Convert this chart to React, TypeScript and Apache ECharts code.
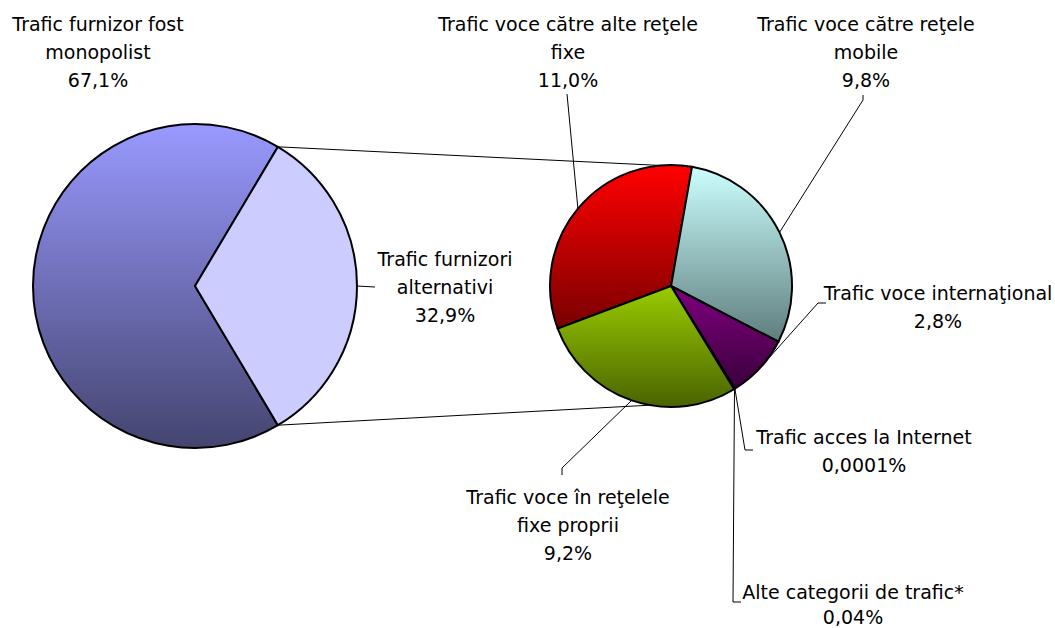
import React, { useEffect, useRef } from "react";
import * as echarts from "echarts";

// ---- data ----
const mainCategories = ["Trafic furnizor fost\nmonopolist", "Trafic furnizori\nalternativi"];
const mainValues = [67.1, 32.9];
const mainValueLabels = ["67,1%", "32,9%"];

const subCategories = [
  "Trafic voce către alte reţele\nfixe",
  "Trafic voce către reţele\nmobile",
  "Trafic voce internaţional",
  "Trafic acces la Internet",
  "Alte categorii de trafic*",
  "Trafic voce în reţelele\nfixe proprii",
];
const subValues = [11.0, 9.8, 2.8, 0.0001, 0.04, 9.2];
const subValueLabels = ["11,0%", "9,8%", "2,8%", "0,0001%", "0,04%", "9,2%"];

// ---- layout (positions / styles) ----
const LEFT = { cx: 195, cy: 286, r: 162 };
const RIGHT = { cx: 671, cy: 286, r: 121 };
const FONT = '"DejaVu Sans", Verdana, sans-serif';
const FS = 19;
const LH = 28;

// label anchor: center x, top y, line height, and label line elbow points (after start point)
const mainLabelLayout = [
  { x: 98, y: 10, lh: LH, line: null as null | number[][] },
  { x: 445, y: 245, lh: LH, line: [[375, 287]] },
];
const subLabelLayout = [
  { x: 568, y: 10, lh: LH, line: [[567, 94]] },
  { x: 866, y: 10, lh: LH, line: [[863, 100], [863, 95]] },
  { x: 938, y: 279, lh: LH, line: [[818, 303], [826, 303]] },
  { x: 864, y: 423, lh: LH, line: [[745, 450], [753, 450]] },
  { x: 853, y: 579, lh: 25, line: [[733, 602], [741, 602]] },
  { x: 568, y: 483, lh: LH, line: [[562, 468], [562, 475]] },
];

const mainColors = [
  ["#9999FF", "#44446F"],
  ["#CCCCFF", "#CCCCFF"],
];
const subColors = [
  ["#FF0000", "#7A0000"],
  ["#CCFFFF", "#5E7D7D"],
  ["#800080", "#3A003A"],
  ["#000000", "#000000"],
  ["#000000", "#000000"],
  ["#99CC00", "#4A6300"],
];

function grad(c: string[]) {
  return new echarts.graphic.LinearGradient(0, 0, 0, 1, [
    { offset: 0, color: c[0] },
    { offset: 1, color: c[1] },
  ]);
}

export default function App() {
  const ref = useRef<HTMLDivElement>(null);
  useEffect(() => {
    if (!ref.current) return;
    const chart = echarts.init(ref.current, null, { renderer: "svg" });

    const mainTotal = mainValues.reduce((a, b) => a + b, 0);
    const half = (mainValues[1] / mainTotal) * 180; // half angle of exploded slice
    const mainStart = 360 - half;
    const subTotal = subValues.reduce((a, b) => a + b, 0);
    const subStart = 80 + (subValues[0] / subTotal) * 360;

    const rad = (d: number) => (d * Math.PI) / 180;
    const p1 = [LEFT.cx + LEFT.r * Math.cos(rad(half)), LEFT.cy - LEFT.r * Math.sin(rad(half))];
    const p2 = [LEFT.cx + LEFT.r * Math.cos(rad(half)), LEFT.cy + LEFT.r * Math.sin(rad(half))];
    const q1 = [RIGHT.cx + RIGHT.r * Math.cos(rad(95)), RIGHT.cy - RIGHT.r * Math.sin(rad(95))];
    const q2 = [RIGHT.cx + RIGHT.r * Math.cos(rad(260)), RIGHT.cy - RIGHT.r * Math.sin(rad(260))];

    const labelStyle = {
      fontFamily: FONT,
      fontSize: FS,
      lineHeight: LH,
      color: "#000",
      align: "center" as const,
    };

    const makeLayout = (layouts: any[]) => (params: any) => {
      const l = layouts[params.dataIndex];
      const start = params.labelLinePoints ? params.labelLinePoints[0] : null;
      const res: any = {
        x: l.x,
        y: l.y,
        align: "center",
        verticalAlign: "top",
      };
      if (l.line && start) res.labelLinePoints = [start, ...l.line];
      return res;
    };

    chart.setOption({
      animation: false,
      graphic: [
        {
          type: "line",
          z: 0,
          shape: { x1: p1[0], y1: p1[1], x2: q1[0], y2: q1[1] },
          style: { stroke: "#000", lineWidth: 1 },
        },
        {
          type: "line",
          z: 0,
          shape: { x1: p2[0], y1: p2[1], x2: q2[0], y2: q2[1] },
          style: { stroke: "#000", lineWidth: 1 },
        },
      ],
      series: [
        {
          type: "pie",
          center: [LEFT.cx, LEFT.cy],
          radius: [0, LEFT.r],
          startAngle: mainStart,
          clockwise: true,
          avoidLabelOverlap: false,
          z: 3,
          data: mainValues.map((v, i) => ({
            value: v,
            name: mainCategories[i],
            itemStyle: { color: grad(mainColors[i]) },
            label: {
              formatter: mainCategories[i] + "\n" + mainValueLabels[i],
              lineHeight: mainLabelLayout[i].lh,
            },
            labelLine: { show: i === 1 },
          })),
          itemStyle: { borderColor: "#000", borderWidth: 2 },
          label: { show: true, position: "outside", ...labelStyle },
          labelLine: { show: true, lineStyle: { color: "#000", width: 1 } },
          labelLayout: makeLayout(mainLabelLayout),
          emphasis: { disabled: true },
        },
        {
          type: "pie",
          center: [RIGHT.cx, RIGHT.cy],
          radius: [0, RIGHT.r],
          startAngle: subStart,
          clockwise: true,
          avoidLabelOverlap: false,
          minShowLabelAngle: 0,
          z: 3,
          data: subValues.map((v, i) => ({
            value: v,
            name: subCategories[i],
            itemStyle: { color: grad(subColors[i]) },
            label: {
              formatter: subCategories[i] + "\n" + subValueLabels[i],
              lineHeight: subLabelLayout[i].lh,
            },
          })),
          itemStyle: { borderColor: "#000", borderWidth: 2 },
          label: { show: true, position: "outside", ...labelStyle },
          labelLine: { show: true, lineStyle: { color: "#000", width: 1 } },
          labelLayout: makeLayout(subLabelLayout),
          emphasis: { disabled: true },
        },
      ],
    });
    return () => chart.dispose();
  }, []);
  return (
    <div
      ref={ref}
      style={{ position: "fixed", left: 0, top: 0, width: 1055, height: 628, background: "#fff" }}
    />
  );
}
